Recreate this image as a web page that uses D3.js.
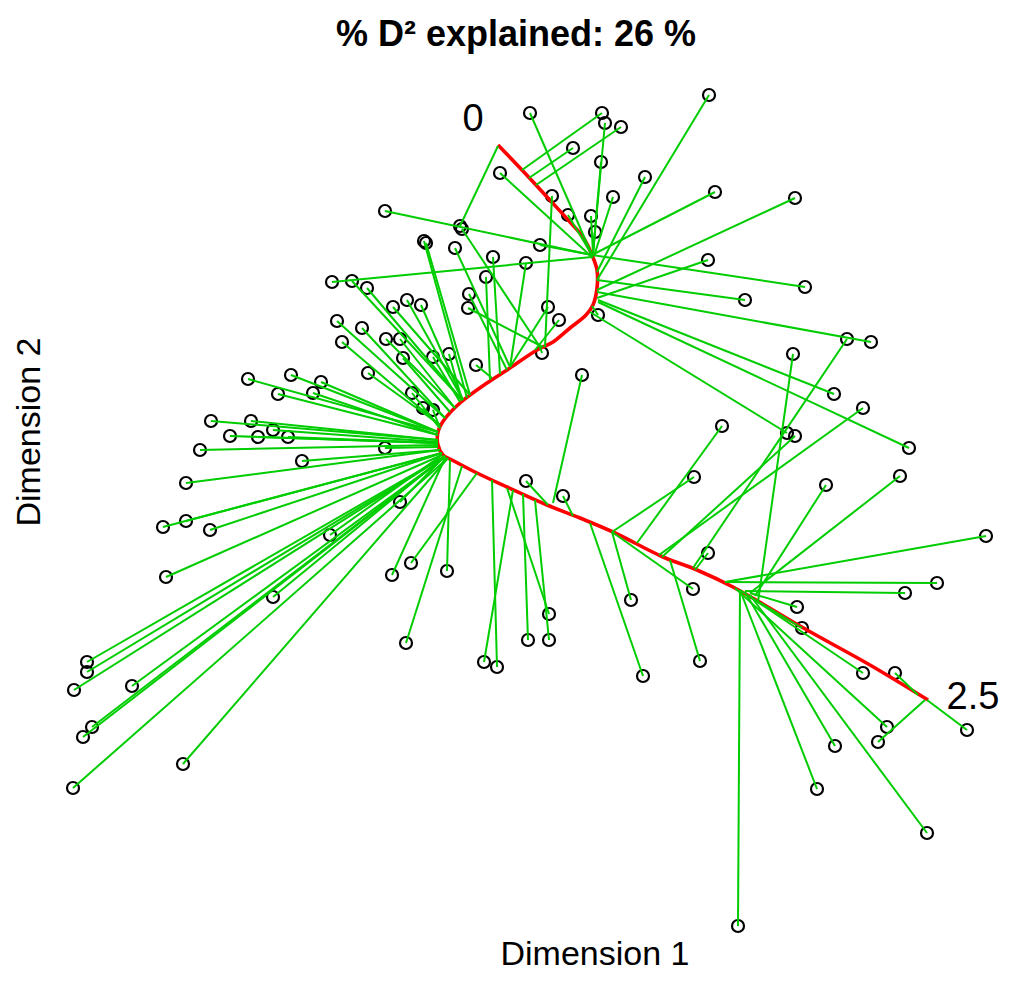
<!DOCTYPE html>
<html><head><meta charset="utf-8">
<script src="https://cdn.jsdelivr.net/npm/d3@7"></script>
<style>body{margin:0;background:#fff}svg{display:block}text{font-family:"Liberation Sans",Arial,sans-serif}</style>
</head><body>
<svg id="c" width="1024" height="989"></svg>
<script>
// principal curve (Dimension 1, Dimension 2)
const curveD1 = [4.98,5.22,5.47,5.70,5.83,5.92,5.97,5.97,5.93,5.86,5.70,5.53,5.37,5.07,4.87,4.60,4.44,4.38,4.38,4.43,4.52,4.77,5.07,5.47,5.80,6.13,6.63,6.97,7.33,8.07,8.70,9.28];
const curveD2 = [8.55,8.30,8.03,7.78,7.63,7.45,7.30,7.12,6.95,6.85,6.72,6.58,6.50,6.30,6.17,5.97,5.80,5.68,5.55,5.45,5.40,5.27,5.13,4.95,4.82,4.68,4.43,4.30,4.13,3.70,3.35,3.00];
const curveLabels = ["0","2.5"];

// sites
const dim1 = [7.09,5.30,6.02,6.05,6.21,5.73,6.01,5.00,6.45,7.15,7.95,6.13,5.52,5.68,5.91,5.95,3.85,4.60,4.62,4.24,4.26,4.55,4.93,5.40,5.26,4.86,4.69,4.68,5.48,5.59,5.42,5.98,5.82,7.08,7.45,8.05,8.47,8.71,8.34,7.93,9.09,8.63,7.22,7.87,7.95,9.00,8.26,6.94,9.86,9.37,9.05,7.08,7.97,8.02,8.63,8.95,8.87,8.78,8.35,8.17,9.27,7.38,9.67,6.93,6.31,6.43,7.00,5.49,5.49,5.28,4.97,4.84,5.26,5.63,4.06,4.47,4.11,3.92,4.00,3.30,2.73,1.66,1.63,1.86,2.10,0.87,0.87,0.74,1.32,0.92,0.83,1.83,0.73,1.86,3.02,3.85,2.00,2.30,2.58,2.88,2.73,2.11,2.51,2.78,3.13,3.21,2.91,2.48,4.12,4.23,4.33,3.68,3.42,3.37,3.62,3.86,4.00,4.03,4.33,4.49,4.76,3.93,4.07,4.21,3.32,3.52,3.67];
const dim2 = [9.05,8.87,8.87,8.77,8.73,8.52,8.38,8.27,8.23,8.08,8.02,8.03,8.04,7.85,7.84,7.68,7.89,7.74,7.71,7.59,7.57,7.52,7.43,7.55,7.37,7.23,7.06,6.92,6.93,6.80,6.47,6.85,6.25,7.40,7.00,7.13,6.61,6.58,6.06,6.46,5.52,5.92,5.74,5.67,5.64,5.24,5.15,5.23,4.64,4.17,4.07,4.47,3.93,3.72,3.27,3.27,2.73,2.58,2.54,2.11,1.67,0.74,2.70,4.11,4.00,3.24,3.39,3.60,3.86,3.60,3.33,3.38,5.19,5.04,3.57,4.29,4.37,4.25,4.98,4.65,4.03,4.23,4.73,4.79,4.70,3.38,3.28,3.10,3.14,2.73,2.63,2.36,2.12,5.17,5.39,5.52,5.50,5.64,5.63,5.63,5.70,5.79,5.79,6.06,6.07,6.18,6.25,6.21,6.07,5.92,5.90,6.27,6.58,6.79,6.72,6.61,6.61,6.42,6.43,6.46,6.35,6.93,7.00,6.95,7.18,7.19,7.12];
// projections of the sites on the curve
const proj1 = [5.97,5.92,5.22,5.93,5.36,5.29,5.93,5.93,5.97,5.92,5.97,5.94,5.45,5.92,5.93,5.93,5.92,4.98,5.40,4.67,4.70,5.10,5.00,5.92,5.10,4.90,5.07,5.43,5.10,5.35,5.40,5.92,5.53,5.97,5.97,5.92,6.93,5.97,5.98,7.58,5.98,6.59,6.37,5.90,6.62,7.50,7.55,6.12,7.25,7.25,7.45,6.95,7.50,7.52,7.40,9.18,7.35,9.25,7.45,7.40,7.50,7.40,9.27,6.12,6.12,5.90,6.70,5.35,5.07,5.23,4.92,5.13,5.48,5.73,4.62,4.50,4.77,4.45,4.45,4.42,4.45,4.42,4.42,4.42,4.42,4.45,4.45,4.45,4.45,4.45,4.45,4.48,4.48,4.40,4.40,4.38,4.38,4.38,4.38,4.38,4.38,4.38,4.38,4.38,4.38,4.38,4.38,4.38,4.40,4.40,4.40,4.40,4.40,4.45,4.45,4.55,4.55,4.50,4.60,4.62,4.92,4.70,4.63,4.63,5.92,4.62,4.62];
const proj2 = [7.20,7.45,8.30,7.47,8.15,8.22,7.47,7.42,7.28,7.45,7.10,7.44,6.53,7.45,7.47,7.47,7.45,8.54,6.53,6.02,6.05,6.33,6.26,7.45,6.33,6.20,6.30,6.53,6.33,6.50,6.53,6.94,4.97,7.02,7.20,7.45,4.32,7.08,7.00,3.98,6.98,4.45,4.57,6.88,4.43,4.07,4.04,4.68,4.18,4.18,4.09,4.30,4.07,4.02,4.10,3.05,4.12,3.00,4.08,4.10,4.05,4.10,3.00,4.68,4.68,4.77,4.40,5.00,5.12,5.06,5.20,5.10,4.95,4.84,5.34,5.40,5.27,5.42,5.44,5.45,5.44,5.45,5.47,5.47,5.47,5.44,5.44,5.44,5.43,5.43,5.43,5.42,5.42,5.50,5.50,5.53,5.55,5.57,5.57,5.57,5.58,5.60,5.60,5.65,5.65,5.68,5.68,5.68,5.72,5.72,5.72,5.75,5.75,5.82,5.82,5.92,5.92,5.88,5.98,6.00,6.22,6.05,6.00,6.00,7.43,6.00,6.00];

const title = "% D\u00B2 explained: 26 %";
const xLabel = "Dimension 1", yLabel = "Dimension 2";

const svg = d3.select("#c");
const x = d3.scaleLinear().domain([0,10.24]).range([0,1024]);
const y = d3.scaleLinear().domain([0,10]).range([1000,0]);

const sites = dim1.map((d,i)=>({a:d,b:dim2[i],pa:proj1[i],pb:proj2[i]}));
const curve = curveD1.map((d,i)=>[d,curveD2[i]]);

// points
svg.append("g").selectAll("circle").data(sites).join("circle")
  .attr("cx",d=>x(d.a)).attr("cy",d=>y(d.b)).attr("r",6)
  .attr("fill","none").attr("stroke","#000").attr("stroke-width",2.2);

// principal curve
svg.append("path").datum(curve)
  .attr("d",d3.line().x(d=>x(d[0])).y(d=>y(d[1])).curve(d3.curveCatmullRom.alpha(0.5)))
  .attr("fill","none").attr("stroke","#ff0000").attr("stroke-width",3.6);

// whiskers
svg.append("g").selectAll("line").data(sites).join("line")
  .attr("x1",d=>x(d.a)).attr("y1",d=>y(d.b)).attr("x2",d=>x(d.pa)).attr("y2",d=>y(d.pb))
  .attr("stroke","#00cd00").attr("stroke-width",2);

// curve end labels
const c0 = curve[0], c1 = curve[curve.length-1];
svg.append("text").attr("x",x(c0[0])-25).attr("y",y(c0[1])-14).attr("text-anchor","middle")
  .attr("font-size",38).text(curveLabels[0]);
svg.append("text").attr("x",x(c1[0])+45).attr("y",y(c1[1])+9).attr("text-anchor","middle")
  .attr("font-size",38).text(curveLabels[1]);

svg.append("text").attr("x",516).attr("y",46).attr("text-anchor","middle")
  .attr("font-size",36).attr("font-weight","bold").text(title);
svg.append("text").attr("x",595).attr("y",965).attr("text-anchor","middle")
  .attr("font-size",34).text(xLabel);
svg.append("text").attr("transform","translate(40,432) rotate(-90)").attr("text-anchor","middle")
  .attr("font-size",34).text(yLabel);
</script>
</body></html>
